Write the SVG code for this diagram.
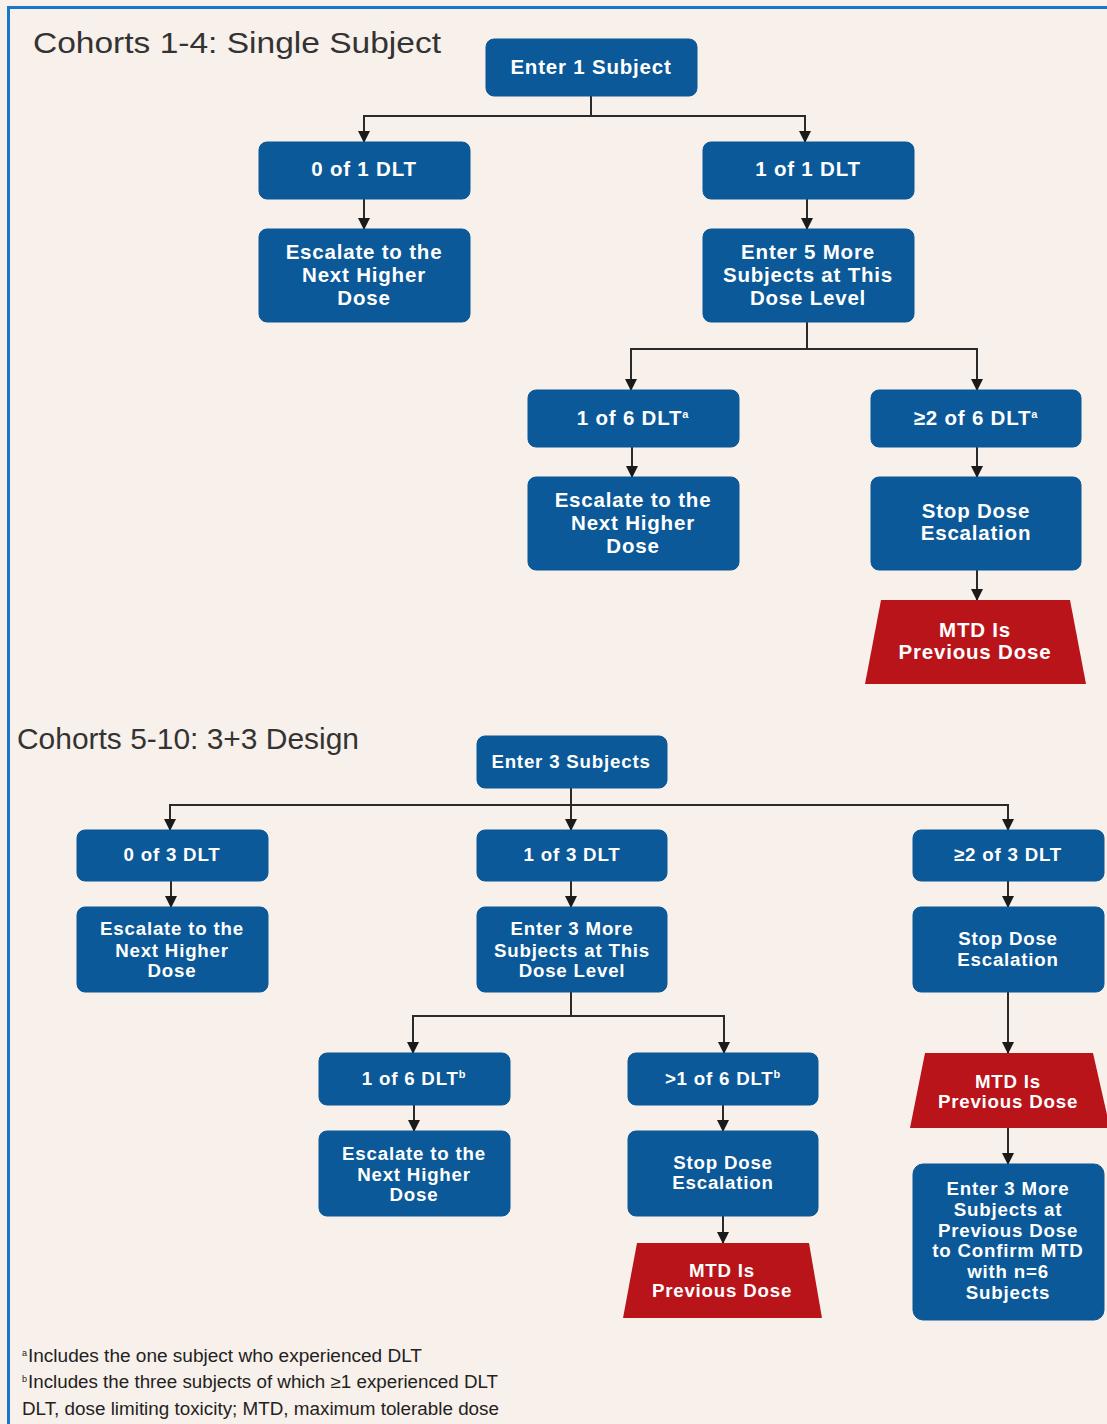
<svg xmlns="http://www.w3.org/2000/svg" width="1107" height="1424" viewBox="0 0 1107 1424">
<defs>
<style>
.bg{fill:#F8F0EA}
.frame{fill:none;stroke:#1B75C9;stroke-width:3}
.box{fill:#0B5998;stroke:#0B5998}
.red{fill:#BA141B}
.t{font-family:"Liberation Sans",Arial,sans-serif;font-weight:bold;font-size:20.5px;fill:#FFFFFF;text-anchor:middle;letter-spacing:0.8px}
.t2{font-size:18.7px}
.title{font-family:"Liberation Sans",Arial,sans-serif;font-size:29px;fill:#333333}
.fn{font-family:"Liberation Sans",Arial,sans-serif;font-size:17.5px;fill:#222222}
.fsup{font-family:"Liberation Sans",Arial,sans-serif;font-size:9px;fill:#222222}
.sup{font-size:11px}
.c{fill:none;stroke:#2a2a2a;stroke-width:2}
</style>
<marker id="ah" markerUnits="userSpaceOnUse" markerWidth="12" markerHeight="12" refX="11" refY="6" orient="auto">
<path d="M0,0 L12,6 L0,12 z" fill="#1a1a1a"/>
</marker>
</defs>
<rect class="bg" x="0" y="0" width="1107" height="1424"/>
<rect class="frame" x="8.5" y="7.5" width="1110" height="1430"/>

<text class="title" x="33" y="53" textLength="408" lengthAdjust="spacingAndGlyphs">Cohorts 1-4: Single Subject</text>
<text class="title" x="17" y="749" textLength="342" lengthAdjust="spacingAndGlyphs">Cohorts 5-10: 3+3 Design</text>

<g id="connectors">
<path class="c" d="M591,96 V116 M363,116 H806"/>
<path class="c" d="M364,116 V142" marker-end="url(#ah)"/>
<path class="c" d="M805,116 V142" marker-end="url(#ah)"/>
<path class="c" d="M364,199 V229" marker-end="url(#ah)"/>
<path class="c" d="M807,199 V229" marker-end="url(#ah)"/>
<path class="c" d="M807,322 V349 M630,349 H978"/>
<path class="c" d="M631,349 V390" marker-end="url(#ah)"/>
<path class="c" d="M977,349 V390" marker-end="url(#ah)"/>
<path class="c" d="M632,447 V477" marker-end="url(#ah)"/>
<path class="c" d="M977,447 V477" marker-end="url(#ah)"/>
<path class="c" d="M977,570 V600" marker-end="url(#ah)"/>

<path class="c" d="M571,788 V805 M169,805 H1009"/>
<path class="c" d="M170,805 V830" marker-end="url(#ah)"/>
<path class="c" d="M571,805 V830" marker-end="url(#ah)"/>
<path class="c" d="M1008,805 V830" marker-end="url(#ah)"/>
<path class="c" d="M171,881 V907" marker-end="url(#ah)"/>
<path class="c" d="M571,881 V907" marker-end="url(#ah)"/>
<path class="c" d="M1008,881 V907" marker-end="url(#ah)"/>
<path class="c" d="M571,992 V1016 M412,1016 H725"/>
<path class="c" d="M413,1016 V1053" marker-end="url(#ah)"/>
<path class="c" d="M724,1016 V1053" marker-end="url(#ah)"/>
<path class="c" d="M414,1105 V1131" marker-end="url(#ah)"/>
<path class="c" d="M723,1105 V1131" marker-end="url(#ah)"/>
<path class="c" d="M723,1216 V1243" marker-end="url(#ah)"/>
<path class="c" d="M1008,992 V1053" marker-end="url(#ah)"/>
<path class="c" d="M1008,1128 V1164" marker-end="url(#ah)"/>
</g>

<g id="n_enter1">
<rect class="box" x="486" y="39" width="211" height="57" rx="8"/>
<text class="t" x="591" y="74">Enter 1 Subject</text>
</g>
<g id="n_0of1">
<rect class="box" x="259" y="142" width="211" height="57" rx="8"/>
<text class="t" x="364" y="176">0 of 1 DLT</text>
</g>
<g id="n_1of1">
<rect class="box" x="703" y="142" width="211" height="57" rx="8"/>
<text class="t" x="808" y="176">1 of 1 DLT</text>
</g>
<g id="n_esc1">
<rect class="box" x="259" y="229" width="211" height="93" rx="8"/>
<text class="t" x="364" y="259">Escalate to the</text>
<text class="t" x="364" y="282">Next Higher</text>
<text class="t" x="364" y="305">Dose</text>
</g>
<g id="n_enter5">
<rect class="box" x="703" y="229" width="211" height="93" rx="8"/>
<text class="t" x="808" y="259">Enter 5 More</text>
<text class="t" x="808" y="282">Subjects at This</text>
<text class="t" x="808" y="305">Dose Level</text>
</g>
<g id="n_1of6a">
<rect class="box" x="528" y="390" width="211" height="57" rx="8"/>
<text class="t" x="633" y="425">1 of 6 DLT<tspan class="sup" dy="-7">a</tspan></text>
</g>
<g id="n_2of6a">
<rect class="box" x="871" y="390" width="210" height="57" rx="8"/>
<text class="t" x="976" y="425">≥2 of 6 DLT<tspan class="sup" dy="-7">a</tspan></text>
</g>
<g id="n_esc2">
<rect class="box" x="528" y="477" width="211" height="93" rx="8"/>
<text class="t" x="633" y="507">Escalate to the</text>
<text class="t" x="633" y="530">Next Higher</text>
<text class="t" x="633" y="553">Dose</text>
</g>
<g id="n_stop1">
<rect class="box" x="871" y="477" width="210" height="93" rx="8"/>
<text class="t" x="976" y="518">Stop Dose</text>
<text class="t" x="976" y="540">Escalation</text>
</g>
<g id="n_mtd1">
<polygon class="red" points="881,600 1070,600 1086,684 865,684"/>
<text class="t" x="975" y="637">MTD Is</text>
<text class="t" x="975" y="659">Previous Dose</text>
</g>

<g id="n_enter3">
<rect class="box" x="477" y="736" width="190" height="52" rx="8"/>
<text class="t t2" x="571" y="768">Enter 3 Subjects</text>
</g>
<g id="n_0of3">
<rect class="box" x="77" y="830" width="191" height="51" rx="8"/>
<text class="t t2" x="172" y="861">0 of 3 DLT</text>
</g>
<g id="n_1of3">
<rect class="box" x="477" y="830" width="190" height="51" rx="8"/>
<text class="t t2" x="572" y="861">1 of 3 DLT</text>
</g>
<g id="n_2of3">
<rect class="box" x="913" y="830" width="191" height="51" rx="8"/>
<text class="t t2" x="1008" y="861">≥2 of 3 DLT</text>
</g>
<g id="n_esc3">
<rect class="box" x="77" y="907" width="191" height="85" rx="8"/>
<text class="t t2" x="172" y="935">Escalate to the</text>
<text class="t t2" x="172" y="957">Next Higher</text>
<text class="t t2" x="172" y="977">Dose</text>
</g>
<g id="n_enter3more">
<rect class="box" x="477" y="907" width="190" height="85" rx="8"/>
<text class="t t2" x="572" y="935">Enter 3 More</text>
<text class="t t2" x="572" y="957">Subjects at This</text>
<text class="t t2" x="572" y="977">Dose Level</text>
</g>
<g id="n_stop2">
<rect class="box" x="913" y="907" width="191" height="85" rx="8"/>
<text class="t t2" x="1008" y="945">Stop Dose</text>
<text class="t t2" x="1008" y="966">Escalation</text>
</g>
<g id="n_1of6b">
<rect class="box" x="319" y="1053" width="191" height="52" rx="8"/>
<text class="t t2" x="414" y="1085">1 of 6 DLT<tspan class="sup" dy="-7">b</tspan></text>
</g>
<g id="n_gt1of6b">
<rect class="box" x="628" y="1053" width="190" height="52" rx="8"/>
<text class="t t2" x="723" y="1085">&gt;1 of 6 DLT<tspan class="sup" dy="-7">b</tspan></text>
</g>
<g id="n_esc4">
<rect class="box" x="319" y="1131" width="191" height="85" rx="8"/>
<text class="t t2" x="414" y="1160">Escalate to the</text>
<text class="t t2" x="414" y="1181">Next Higher</text>
<text class="t t2" x="414" y="1201">Dose</text>
</g>
<g id="n_stop3">
<rect class="box" x="628" y="1131" width="190" height="85" rx="8"/>
<text class="t t2" x="723" y="1169">Stop Dose</text>
<text class="t t2" x="723" y="1189">Escalation</text>
</g>
<g id="n_mtd2">
<polygon class="red" points="637,1243 809,1243 822,1318 623,1318"/>
<text class="t t2" x="722" y="1277">MTD Is</text>
<text class="t t2" x="722" y="1297">Previous Dose</text>
</g>
<g id="n_mtd3">
<polygon class="red" points="925,1053 1093,1053 1110,1128 910,1128"/>
<text class="t t2" x="1008" y="1088">MTD Is</text>
<text class="t t2" x="1008" y="1108">Previous Dose</text>
</g>
<g id="n_confirm">
<rect class="box" x="913" y="1164" width="191" height="156" rx="10"/>
<text class="t t2" x="1008" y="1195">Enter 3 More</text>
<text class="t t2" x="1008" y="1216">Subjects at</text>
<text class="t t2" x="1008" y="1237">Previous Dose</text>
<text class="t t2" x="1008" y="1257">to Confirm MTD</text>
<text class="t t2" x="1008" y="1278">with n=6</text>
<text class="t t2" x="1008" y="1299">Subjects</text>
</g>

<g id="footnotes">
<text class="fsup" x="22" y="1356">a</text>
<text class="fn" x="28" y="1362" textLength="394" lengthAdjust="spacingAndGlyphs">Includes the one subject who experienced DLT</text>
<text class="fsup" x="22" y="1382">b</text>
<text class="fn" x="28" y="1388" textLength="470" lengthAdjust="spacingAndGlyphs">Includes the three subjects of which ≥1 experienced DLT</text>
<text class="fn" x="22" y="1415" textLength="477" lengthAdjust="spacingAndGlyphs">DLT, dose limiting toxicity; MTD, maximum tolerable dose</text>
</g>
</svg>
